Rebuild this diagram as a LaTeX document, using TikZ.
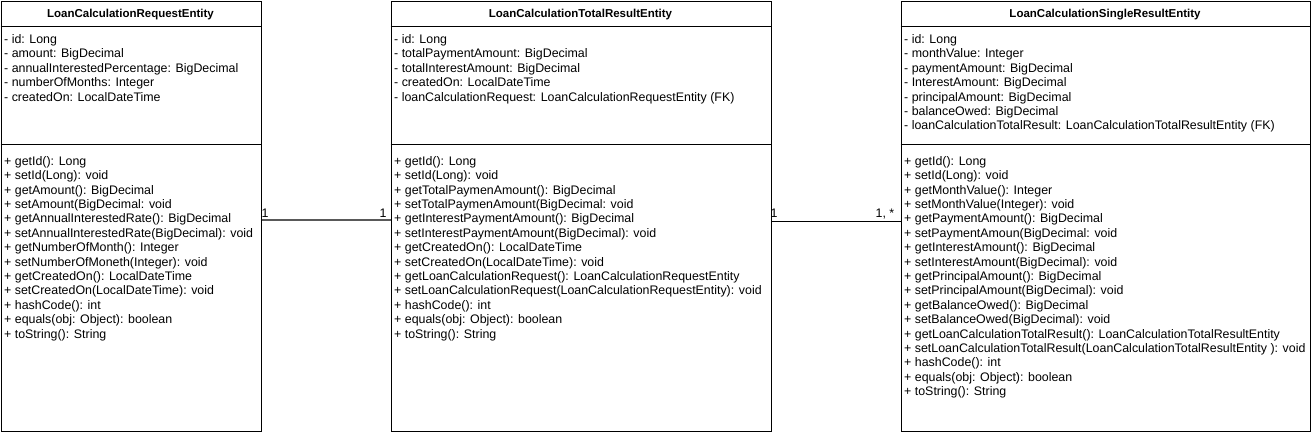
\documentclass[tikz,border=0pt]{standalone}
\usepackage{fontspec}
\setmainfont{Liberation Sans}
\begin{document}
\begin{tikzpicture}[x=1pt,y=-1pt,
  cls/.style={draw, line width=1pt, inner sep=0pt, anchor=north west},
  ttl/.style={font=\fontsize{11.5}{13}\selectfont\bfseries, anchor=base, inner sep=0pt},
  mem/.style={font=\fontsize{12.4}{14.4}\selectfont, align=left, anchor=north west, inner sep=0pt, execute at begin node=\strut},
  lab/.style={font=\fontsize{12.4}{14.4}\selectfont, anchor=base, inner sep=0pt},
  sep/.style={line width=1pt},
  assoc/.style={line width=1pt}]
\useasboundingbox (0,0) rectangle (1311,434);

% boxes
\node[cls, minimum width=260pt, minimum height=430pt] (req) at (0.5,0.5) {};
\node[cls, minimum width=380pt, minimum height=430pt] (tot) at (390.5,0.5) {};
\node[cls, minimum width=409pt, minimum height=430pt] (sgl) at (900.5,0.5) {};

% separators
\foreach \b in {req,tot,sgl}{
  \draw[sep] ([yshift=-25.5pt]\b.north west) -- ([yshift=-25.5pt]\b.north east);
  \draw[sep] ([yshift=-144pt]\b.north west) -- ([yshift=-144pt]\b.north east);
}

% titles
\node[ttl] (reqT) at (130.5,17.2) {LoanCalculationRequestEntity};
\node[ttl] (totT) at (580.5,17.2) {LoanCalculationTotalResultEntity};
\node[ttl] (sglT) at (1105,17.2) {LoanCalculationSingleResultEntity};

% attributes
\node[mem] (reqA) at (4,34.4) {- id: Long\\- amount: BigDecimal\\- annualInterestedPercentage: BigDecimal\\- numberOfMonths: Integer\\- createdOn: LocalDateTime};
\node[mem] (totA) at (394,34.4) {- id: Long\\- totalPaymentAmount: BigDecimal\\- totalInterestAmount: BigDecimal\\- createdOn: LocalDateTime\\- loanCalculationRequest: LoanCalculationRequestEntity (FK)};
\node[mem] (sglA) at (904,34.4) {- id: Long\\- monthValue: Integer\\- paymentAmount: BigDecimal\\- InterestAmount: BigDecimal\\- principalAmount: BigDecimal\\- balanceOwed: BigDecimal\\- loanCalculationTotalResult: LoanCalculationTotalResultEntity (FK)};

% methods
\node[mem] (reqM) at (4,156.1) {+ getId(): Long\\+ setId(Long): void\\+ getAmount(): BigDecimal\\+ setAmount(BigDecimal: void\\+ getAnnualInterestedRate(): BigDecimal\\+ setAnnualInterestedRate(BigDecimal): void\\+ getNumberOfMonth(): Integer\\+ setNumberOfMoneth(Integer): void\\+ getCreatedOn(): LocalDateTime\\+ setCreatedOn(LocalDateTime): void\\+ hashCode(): int\\+ equals(obj: Object): boolean\\+ toString(): String};
\node[mem] (totM) at (394,156.1) {+ getId(): Long\\+ setId(Long): void\\+ getTotalPaymenAmount(): BigDecimal\\+ setTotalPaymenAmount(BigDecimal: void\\+ getInterestPaymentAmount(): BigDecimal\\+ setInterestPaymentAmount(BigDecimal): void\\+ getCreatedOn(): LocalDateTime\\+ setCreatedOn(LocalDateTime): void\\+ getLoanCalculationRequest(): LoanCalculationRequestEntity\\+ setLoanCalculationRequest(LoanCalculationRequestEntity): void\\+ hashCode(): int\\+ equals(obj: Object): boolean\\+ toString(): String};
\node[mem] (sglM) at (904,156.1) {+ getId(): Long\\+ setId(Long): void\\+ getMonthValue(): Integer\\+ setMonthValue(Integer): void\\+ getPaymentAmount(): BigDecimal\\+ setPaymentAmoun(BigDecimal: void\\+ getInterestAmount(): BigDecimal\\+ setInterestAmount(BigDecimal): void\\+ getPrincipalAmount(): BigDecimal\\+ setPrincipalAmount(BigDecimal): void\\+ getBalanceOwed(): BigDecimal\\+ setBalanceOwed(BigDecimal): void\\+ getLoanCalculationTotalResult(): LoanCalculationTotalResultEntity\\+ setLoanCalculationTotalResult(LoanCalculationTotalResultEntity ): void\\+ hashCode(): int\\+ equals(obj: Object): boolean\\+ toString(): String};

% associations
\draw[assoc, draw=black!65, line width=1.4pt] ([yshift=-3.8pt]req.east) -- ([yshift=-3.8pt]tot.west);
\draw[assoc] ([yshift=-5.8pt]tot.east) -- ([yshift=-5.8pt]sgl.west);

% multiplicities
\node[lab] (m1) at (265,217.2) {1};
\node[lab] (m2) at (383,217.2) {1};
\node[lab] (m3) at (774,217.2) {1};
\node[lab] (m4) at (885,217.2) {1, *};
\end{tikzpicture}
\end{document}
